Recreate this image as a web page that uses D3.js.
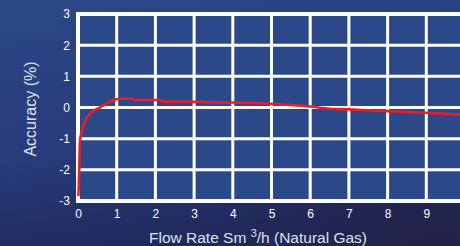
<!DOCTYPE html>
<html><head><meta charset="utf-8">
<script src="https://cdn.jsdelivr.net/npm/d3@7"></script>
<style>html,body{margin:0;padding:0;background:#24397a;}svg{display:block;}</style>
</head><body>
<svg id="c" width="460" height="246"></svg>
<script>
const flowRate = [0.01,0.02,0.03,0.05,0.08,0.11,0.16,0.22,0.3,0.4,0.52,0.62,0.74,0.85,0.96,1.1,1.4,1.5,2.1,2.2,3.0,4.0,4.5,5.0,5.5,6.0,6.5,7.0,7.5,8.0,8.5,9.0,9.5,9.9];
const accuracy = [-2.85,-2.5,-2.07,-1.1,-0.85,-0.68,-0.5,-0.35,-0.22,-0.1,-0.04,0.05,0.12,0.2,0.26,0.28,0.28,0.24,0.24,0.19,0.18,0.16,0.14,0.12,0.08,0.03,-0.04,-0.06,-0.09,-0.12,-0.14,-0.17,-0.2,-0.23];
const xTicks = [0,1,2,3,4,5,6,7,8,9];
const yTicks = [-3,-2,-1,0,1,2,3];
const yTickLabels = ["-3","-2","-1","0","1","2","3"];

const svg = d3.select("#c");
const defs = svg.append("defs");
const bg = defs.append("linearGradient").attr("id","bg").attr("x1",0).attr("y1",0).attr("x2",0.3).attr("y2",1);
bg.append("stop").attr("offset","0%").attr("stop-color","#2b4886");
bg.append("stop").attr("offset","60%").attr("stop-color","#283b7c");
bg.append("stop").attr("offset","100%").attr("stop-color","#202a5c");
const rg = defs.append("radialGradient").attr("id","rg").attr("cx",0.95).attr("cy",1).attr("r",0.5);
rg.append("stop").attr("offset","0%").attr("stop-color","#241f45").attr("stop-opacity",0.8);
rg.append("stop").attr("offset","100%").attr("stop-color","#241f45").attr("stop-opacity",0);
svg.append("rect").attr("width",460).attr("height",246).attr("fill","url(#bg)");
svg.append("rect").attr("width",460).attr("height",246).attr("fill","url(#rg)");

const x = d3.scaleLinear().domain([0,10]).range([78,465]);
const y = d3.scaleLinear().domain([-3,3]).range([201,14]);

const g = svg.append("g");
g.append("rect").attr("x",x(0)).attr("y",y(3)).attr("width",x(10)-x(0)).attr("height",y(-3)-y(3)).attr("fill","#2b4888");

g.selectAll("line.v").data(xTicks.slice(1).concat([10])).join("line")
  .attr("x1",d=>x(d)).attr("x2",d=>x(d)).attr("y1",y(3)).attr("y2",y(-3))
  .attr("stroke","#ffffff").attr("stroke-width",3);
g.selectAll("line.h").data(yTicks.slice(1,-1)).join("line")
  .attr("x1",x(0)).attr("x2",x(10)).attr("y1",d=>y(d)).attr("y2",d=>y(d))
  .attr("stroke","#ffffff").attr("stroke-width",3);
g.append("path").attr("d",`M${x(10)+5},${y(3)}H${x(0)}V${y(-3)}H${x(10)+5}`)
  .attr("fill","none").attr("stroke","#ffffff").attr("stroke-width",4);

const font = "Liberation Sans, Arial, sans-serif";
const xAxis = d3.axisBottom(x).tickValues(xTicks).tickFormat(d=>String(d)).tickSize(0).tickPadding(7);
const ax = svg.append("g").attr("transform",`translate(0,${y(-3)+1})`).call(xAxis);
ax.select(".domain").remove();
ax.selectAll("text").attr("fill","#ffffff").attr("font-family",font).attr("font-size",12);

const yAxis = d3.axisLeft(y).tickValues(yTicks).tickFormat((d,i)=>yTickLabels[i]).tickSize(0).tickPadding(6);
const ay = svg.append("g").attr("transform",`translate(${x(0)-2},0)`).call(yAxis);
ay.select(".domain").remove();
ay.selectAll("text").attr("fill","#ffffff").attr("font-family",font).attr("font-size",12);

const line = d3.line().x((d,i)=>x(flowRate[i])).y(d=>y(d)).curve(d3.curveMonotoneX);
svg.append("path").datum(accuracy).attr("d",line).attr("fill","none")
  .attr("stroke","#ec1c2a").attr("stroke-width",2.6).attr("stroke-linejoin","round");

const xt = svg.append("text").attr("x",258).attr("y",243).attr("text-anchor","middle")
  .attr("fill","#dde1ec").attr("font-family",font).attr("font-size",15.5);
xt.append("tspan").text("Flow Rate Sm ");
xt.append("tspan").attr("font-size",11).attr("dy",-6).text("3");
xt.append("tspan").attr("dy",6).text("/h (Natural Gas)");

svg.append("text").attr("transform","translate(36,109) rotate(-90)").attr("text-anchor","middle")
  .attr("fill","#dde1ec").attr("font-family",font).attr("font-size",16)
  .text("Accuracy (%)");
</script>
</body></html>
